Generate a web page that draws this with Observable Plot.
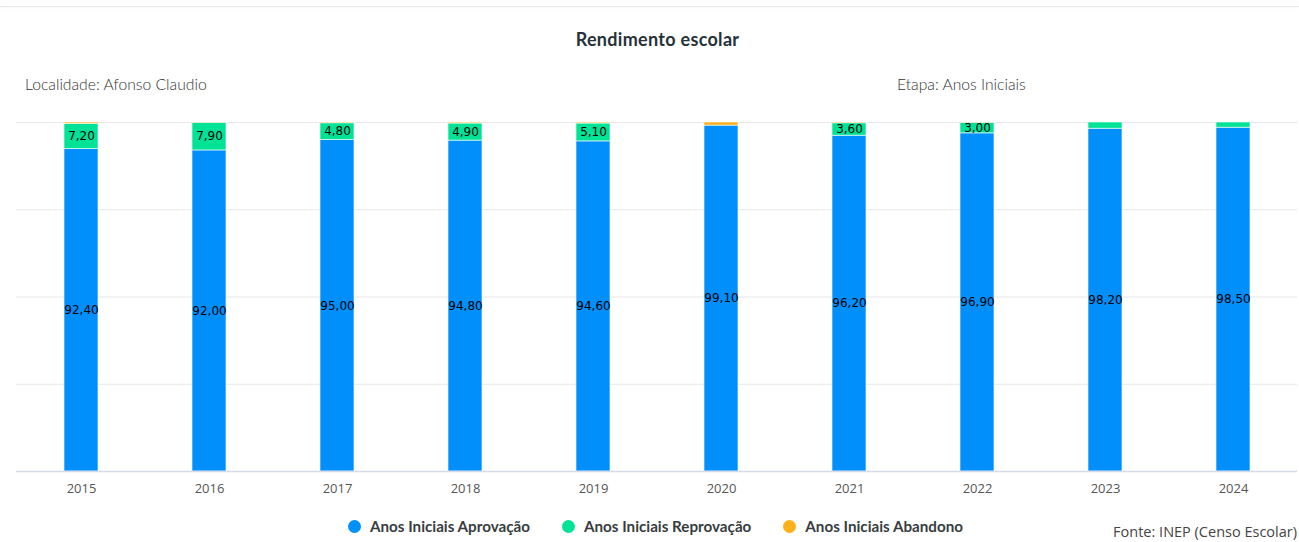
<!DOCTYPE html>
<html>
<head>
<meta charset="utf-8">
<script src="https://cdn.jsdelivr.net/npm/d3@7"></script>
<script src="https://cdn.jsdelivr.net/npm/@observablehq/plot@0.6"></script>
<style>
  html, body { margin: 0; padding: 0; background: #fff; }
  #wrap { position: relative; width: 1299px; height: 542px; overflow: hidden; font-family: Lato, "Open Sans", sans-serif; }
  #topline { position: absolute; left: 0; top: 6px; width: 1299px; height: 0; border-top: 1px solid #e9e9e9; box-shadow: 0 1px 2px rgba(0,0,0,0.04); }
  #title { position: absolute; left: 8px; width: 1299px; top: 28px; text-align: center; font: 700 18px Lato, sans-serif; letter-spacing: 0.3px; color: #263238; }
  .sub { position: absolute; top: 75px; font: 300 15.7px Lato, sans-serif; color: #333; }
  #chart { position: absolute; left: 0; top: 110px; }
  #legend { position: absolute; top: 517px; left: 6px; width: 1299px; display: flex; justify-content: center; font: 700 15.2px Lato, sans-serif; color: #373d3f; }
  .item { display: flex; align-items: center; margin: 0 16px; }
  .dot { width: 13px; height: 13px; border-radius: 50%; margin-right: 9px; }
  #fonte { position: absolute; right: 2px; top: 522px; font: 400 14.5px "Open Sans", sans-serif; color: #444; }
</style>
</head>
<body>
<div id="wrap">
  <div id="topline"></div>
  <div id="title">Rendimento escolar</div>
  <div class="sub" style="left:25px">Localidade: Afonso Claudio</div>
  <div class="sub" style="left:897px">Etapa: Anos Iniciais</div>
  <div id="chart"></div>
  <div id="legend"></div>
  <div id="fonte">Fonte: INEP (Censo Escolar)</div>
</div>
<script>
const anos = ["2015","2016","2017","2018","2019","2020","2021","2022","2023","2024"];
const series = ["Anos Iniciais Aprovação","Anos Iniciais Reprovação","Anos Iniciais Abandono"];
const cores = ["#008FFB","#00E396","#FEB019"];
const aprovacao  = [92.4, 92.0, 95.0, 94.8, 94.6, 99.1, 96.2, 96.9, 98.2, 98.5];
const reprovacao = [7.2, 7.9, 4.8, 4.9, 5.1, 0.0, 3.6, 3.0, 1.8, 1.5];
const abandono   = [0.4, 0.1, 0.2, 0.3, 0.3, 0.9, 0.2, 0.1, 0.0, 0.0];
const yTicks = [0, 25, 50, 75, 100];

const valores = [aprovacao, reprovacao, abandono];
const dados = [];
anos.forEach((ano, i) => {
  series.forEach((s, k) => dados.push({ano, serie: s, valor: valores[k][i]}));
});
const fmt = v => v.toFixed(2).replace(".", ",");

const W = 1299, mTop = 12, plotH = 349, mBottom = 30;
const chart = Plot.plot({
  width: W,
  height: mTop + plotH + mBottom,
  marginTop: mTop,
  marginBottom: mBottom,
  marginLeft: 16,
  marginRight: 2,
  style: { fontFamily: "'Open Sans', sans-serif", background: "transparent" },
  x: { domain: anos, paddingInner: 0.735, paddingOuter: 0.3675, label: null },
  y: { domain: [0, 100], label: null },
  color: { domain: series, range: cores },
  marks: [
    Plot.gridY(yTicks, { stroke: "#e6e6e6", strokeOpacity: 1 }),
    Plot.barY(dados, Plot.stackY({ x: "ano", y: "valor", z: "serie", fill: "serie", stroke: "white", strokeWidth: 1, strokeOpacity: 0.6 })),
    Plot.text(dados, Plot.stackY({
      x: "ano", y: "valor", z: "serie",
      text: d => (d.serie !== series[2] && d.valor >= 3) ? fmt(d.valor) : "",
      fill: "#000", fontSize: 12, fontFamily: "DejaVu Sans, sans-serif"
    })),
    Plot.ruleY([0], { stroke: "#d3dbe9", strokeWidth: 1.5 }),
    Plot.axisX({ tickSize: 0, tickPadding: 12, fontSize: 13, fill: "#555", fontWeight: 400, label: null }),
    Plot.axisY({ ticks: [], label: null })
  ]
});
document.getElementById("chart").appendChild(chart);

const leg = document.getElementById("legend");
series.forEach((s, k) => {
  const it = document.createElement("div");
  it.className = "item";
  const dot = document.createElement("span");
  dot.className = "dot";
  dot.style.background = cores[k];
  const t = document.createElement("span");
  t.textContent = s;
  it.appendChild(dot); it.appendChild(t);
  leg.appendChild(it);
});
</script>
</body>
</html>
